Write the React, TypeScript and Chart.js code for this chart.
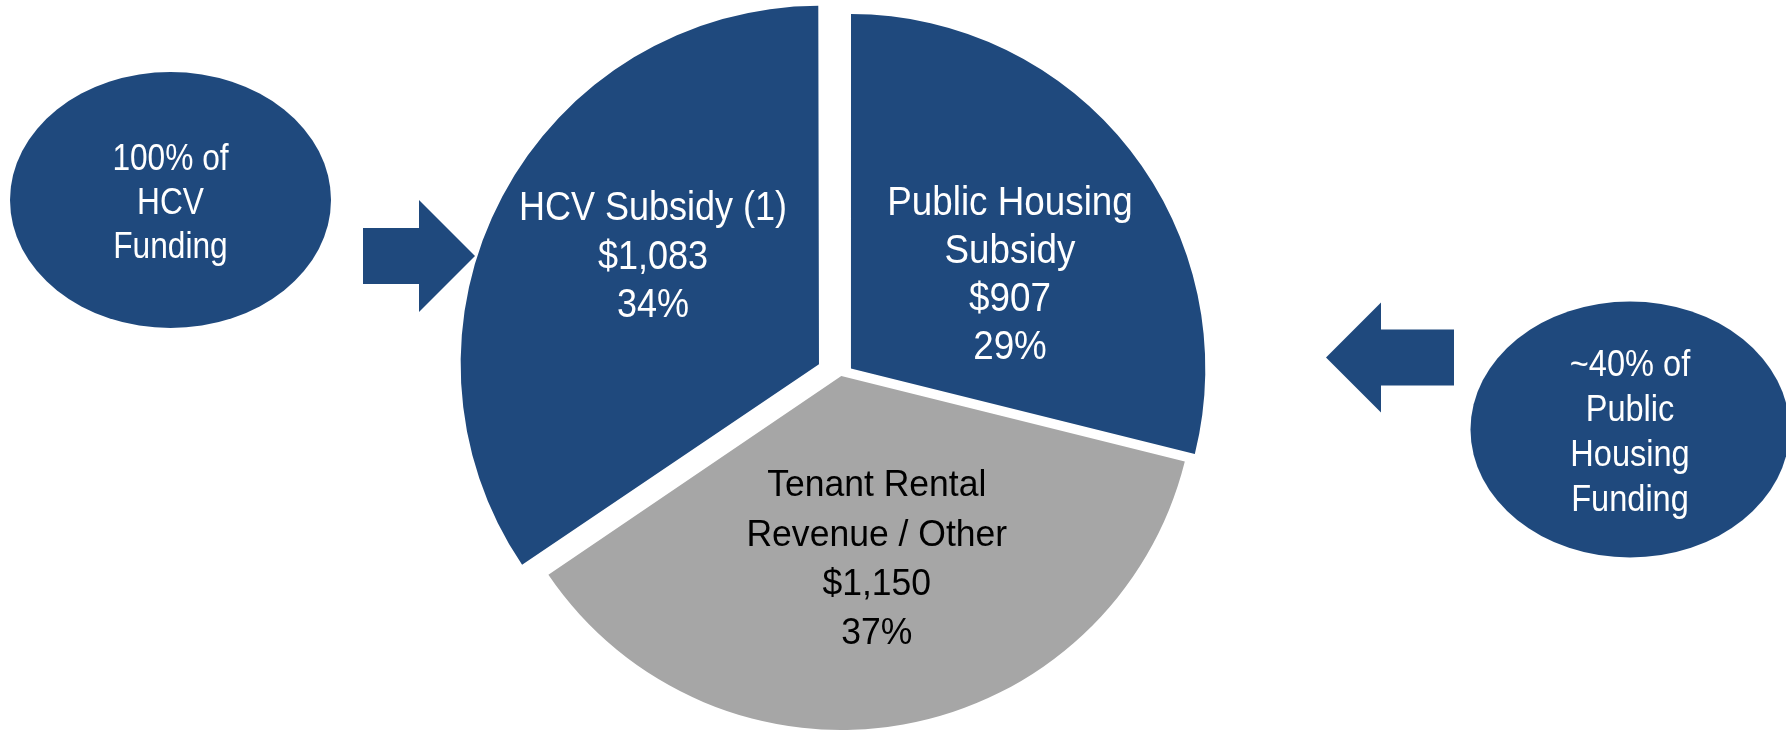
import React, { useEffect, useRef } from "react";
import { Chart, registerables } from "chart.js";

Chart.register(...registerables);

// ---- data ----
const categories = ["Public Housing Subsidy", "Tenant Rental Revenue / Other", "HCV Subsidy (1)"];
const values = [907, 1150, 1083];
const labelLines = [["Public Housing", "Subsidy"], ["Tenant Rental", "Revenue / Other"], ["HCV Subsidy (1)"]];
const leftNote = ["100% of", "HCV", "Funding"];
const rightNote = ["~40% of", "Public", "Housing", "Funding"];

// ---- styles ----
const BLUE = "#1F497D";
const GRAY = "#A6A6A6";
const sliceColors = [BLUE, GRAY, BLUE];
const labelColors = ["#FFFFFF", "#000000", "#FFFFFF"];
const explodeOffsets = [49, 0, 101];
const FONT = '"Liberation Sans", Arial, sans-serif';

// label placement relative to each slice: [radius fraction, angle delta (deg), font size, line height, x-scale]
const labelPlacement = [
  [0.559, 6.5, 40, 48.2, 0.92],
  [0.521, -1.0, 37, 49.2, 0.96],
  [0.633, 4.9, 40, 48.5, 0.9],
];

function drawLines(ctx: CanvasRenderingContext2D, lines: string[], cx: number, cy: number, size: number, lh: number, color: string, sx: number) {
  const cap = size * 0.716;
  ctx.save();
  ctx.font = `${size}px ${FONT}`;
  ctx.fillStyle = color;
  ctx.textAlign = "center";
  ctx.textBaseline = "alphabetic";
  lines.forEach((t, i) => {
    const by = cy + (i - (lines.length - 1) / 2) * lh + cap / 2;
    ctx.save();
    ctx.translate(cx, by);
    ctx.scale(sx, 1);
    ctx.fillText(t, 0, 0);
    ctx.restore();
  });
  ctx.restore();
}

function arrow(ctx: CanvasRenderingContext2D, pts: number[][]) {
  ctx.beginPath();
  pts.forEach((p, i) => (i ? ctx.lineTo(p[0], p[1]) : ctx.moveTo(p[0], p[1])));
  ctx.closePath();
  ctx.fillStyle = BLUE;
  ctx.fill();
}

const decorPlugin = {
  id: "decor",
  beforeDatasetsDraw(chart: any) {
    const ctx = chart.ctx as CanvasRenderingContext2D;
    ctx.save();
    ctx.fillStyle = BLUE;
    ctx.beginPath();
    ctx.ellipse(170.5, 200, 160.5, 128, 0, 0, Math.PI * 2);
    ctx.fill();
    ctx.beginPath();
    ctx.ellipse(1630, 429.5, 159.5, 128, 0, 0, Math.PI * 2);
    ctx.fill();
    arrow(ctx, [[363, 228], [419, 228], [419, 200], [475, 256], [419, 312], [419, 284], [363, 284]]);
    arrow(ctx, [[1454, 329.6], [1381, 329.6], [1381, 302.6], [1326, 357.5], [1381, 412.5], [1381, 385.5], [1454, 385.5]]);
    ctx.restore();
    drawLines(ctx, leftNote, 170.5, 201, 36, 44, "#FFFFFF", 0.88);
    drawLines(ctx, rightNote, 1630, 430, 37, 45, "#FFFFFF", 0.88);
  },
  afterDatasetsDraw(chart: any) {
    const ctx = chart.ctx as CanvasRenderingContext2D;
    const meta = chart.getDatasetMeta(0);
    const total = values.reduce((a, b) => a + b, 0);
    meta.data.forEach((arc: any, i: number) => {
      const { x, y, startAngle, endAngle, outerRadius } = arc.getProps(["x", "y", "startAngle", "endAngle", "outerRadius"], true);
      const [f, dDeg, size, lh, sx] = labelPlacement[i];
      const a = (startAngle + endAngle) / 2 + (dDeg * Math.PI) / 180;
      const cx = x + Math.cos(a) * f * outerRadius;
      const cy = y + Math.sin(a) * f * outerRadius;
      const lines = [
        ...labelLines[i],
        "$" + values[i].toLocaleString("en-US"),
        Math.round((values[i] / total) * 100) + "%",
      ];
      drawLines(ctx, lines, cx, cy, size, lh, labelColors[i], sx);
    });
  },
};

export default function App() {
  const ref = useRef<HTMLCanvasElement>(null);
  useEffect(() => {
    if (!ref.current) return;
    const chart = new Chart(ref.current, {
      type: "pie",
      data: {
        labels: categories,
        datasets: [
          {
            data: values,
            backgroundColor: sliceColors,
            borderWidth: 0,
            offset: explodeOffsets,
            clip: false,
          } as any,
        ],
      },
      options: {
        responsive: false,
        animation: false,
        devicePixelRatio: 1,
        radius: 354,
        layout: { padding: { left: 0, right: 103.4, top: 22, bottom: 0 } },
        plugins: { legend: { display: false }, tooltip: { enabled: false }, title: { display: false } },
        events: [],
      } as any,
      plugins: [decorPlugin],
    });
    return () => chart.destroy();
  }, []);
  return (
    <div style={{ position: "absolute", left: 0, top: 0, width: 1786, height: 730, background: "#fff" }}>
      <canvas ref={ref} width={1786} height={730} style={{ width: 1786, height: 730, display: "block" }} />
    </div>
  );
}
